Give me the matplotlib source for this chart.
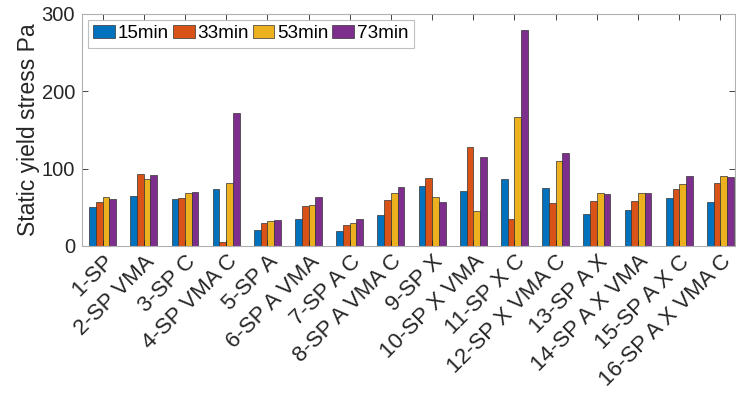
import matplotlib.pyplot as plt
import matplotlib.transforms as mtransforms
import numpy as np

plt.rcParams['font.family'] = ['Liberation Sans', 'DejaVu Sans']

# Mix names and yield stress readings (Pa) at each time
mixes = ['1-SP', '2-SP VMA', '3-SP C', '4-SP VMA C', '5-SP A', '6-SP A VMA',
         '7-SP A C', '8-SP A VMA C', '9-SP X', '10-SP X VMA', '11-SP X C',
         '12-SP X VMA C', '13-SP A X', '14-SP A X VMA', '15-SP A X C',
         '16-SP A X VMA C']
t15 = [50, 64, 61, 74, 21, 35, 19.5, 40, 77, 71, 86, 75.5, 41, 46, 62.5, 57]
t33 = [56.5, 93.5, 62.5, 5, 30, 52, 27, 59, 88, 127.5, 34.5, 55, 58, 58, 74, 82]
t53 = [63, 87, 69, 81, 32, 53.5, 30, 68.5, 63, 45.7, 167, 110, 68.5, 68.5, 80, 90.5]
t73 = [61, 92, 69.5, 172, 33, 63, 35, 76, 57, 115.5, 279, 120, 67.7, 68.5, 90, 89]
series = [t15, t33, t53, t73]
labels = ['15min', '33min', '53min', '73min']
colors = ['#0072BD', '#D95319', '#EDB120', '#7E2F8E']

fig = plt.figure(figsize=(7.36, 3.98), dpi=100)
ax = fig.add_axes([0.1114, 0.382, 0.887, 0.583])

x = np.arange(1, len(mixes) + 1)
w = 0.163
for i, (vals, lab, c) in enumerate(zip(series, labels, colors)):
    ax.bar(x + (i - 1.5) * w, vals, w, color=c, edgecolor='#333333',
           linewidth=0.5, label=lab)

ax.set_xlim(0.5, 16.35)
ax.set_ylim(0, 300)
ax.set_yticks([0, 100, 200, 300])
ax.set_xticks(x)
ax.set_xticklabels(mixes, rotation=45, ha='right', va='center',
                   rotation_mode='anchor', fontsize=16, color='#262626')
ax.tick_params(axis='y', labelsize=14.5, labelcolor='#262626', pad=5)
ax.tick_params(axis='x', pad=9)
ax.tick_params(direction='in', length=4, top=True, right=True, color='#262626',
               width=0.6)
# nudge rotated labels to the right like the original (after tick_params,
# which resets the label transforms)
shift = mtransforms.ScaledTranslation(0.075, 0, fig.dpi_scale_trans)
for lbl in ax.get_xticklabels():
    lbl.set_transform(lbl.get_transform() + shift)
for s in ax.spines.values():
    s.set_color('#b0b0b0')
    s.set_linewidth(0.8)
ax.set_ylabel('Static yield stress Pa', fontsize=16.5, color='#262626', labelpad=1)

leg = ax.legend(loc='upper left', ncol=4, fontsize=13.6, frameon=True,
                fancybox=False, handlelength=1.15, handleheight=0.67,
                handletextpad=0.15, columnspacing=0.2, borderpad=0.3,
                borderaxespad=0.3)
leg.get_frame().set_edgecolor('#b0b0b0')
leg.get_frame().set_linewidth(0.8)

fig.savefig('out.png', dpi=100)
